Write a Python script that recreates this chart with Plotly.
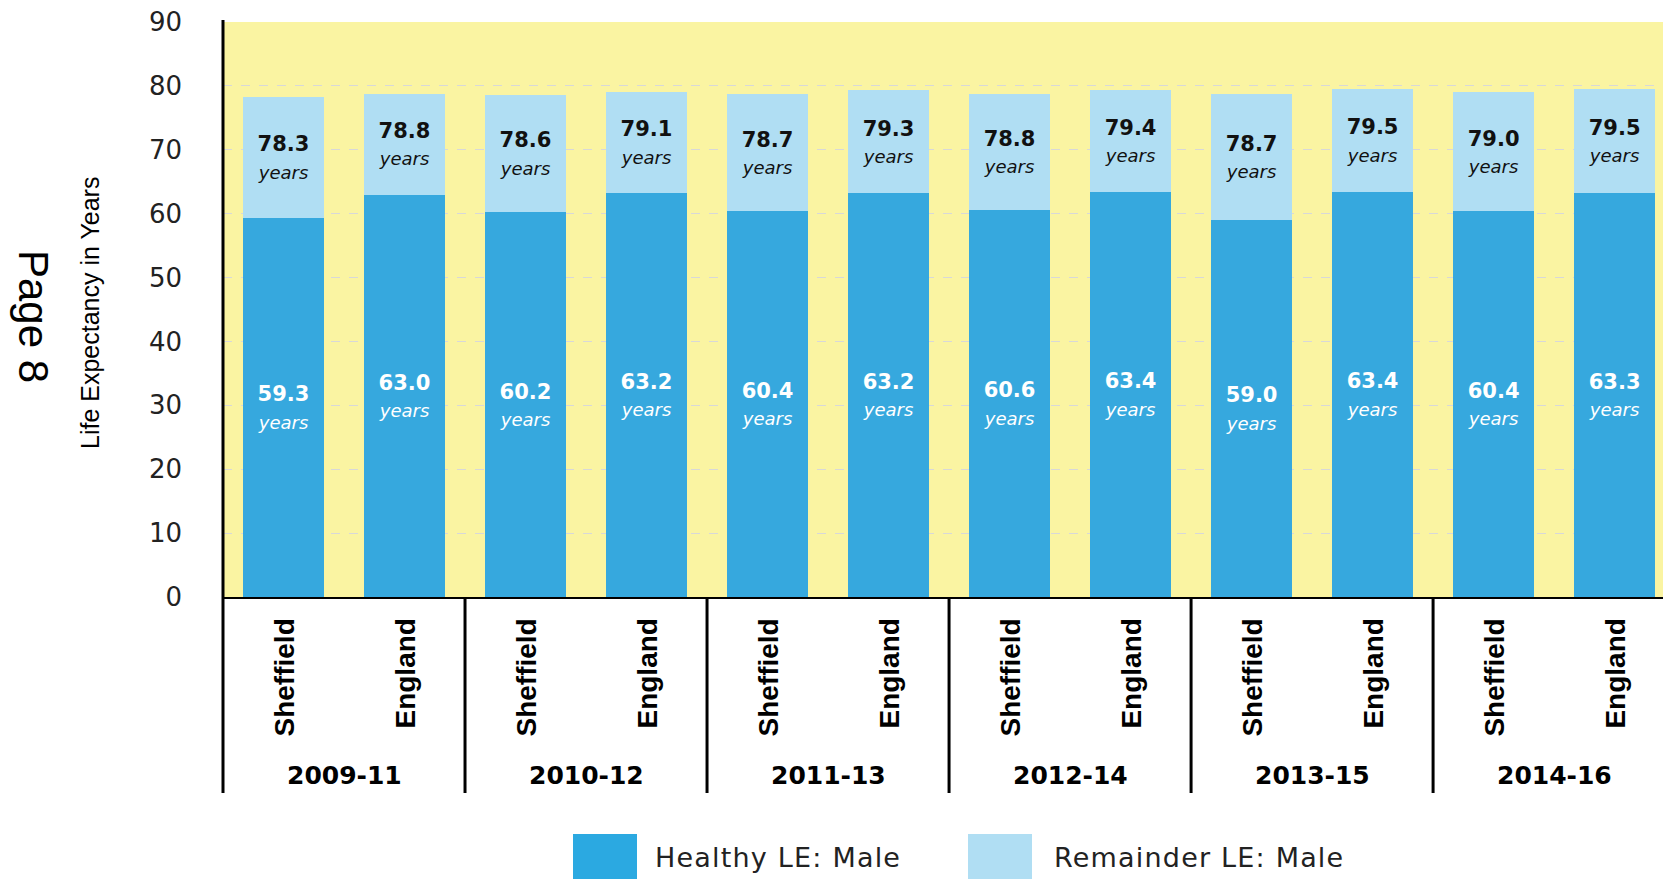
import plotly.graph_objects as go

periods = ["2009-11", "2010-12", "2011-13", "2012-14", "2013-15", "2014-16"]
areas = ["Sheffield", "England"]
healthy = [59.3, 63.0, 60.2, 63.2, 60.4, 63.2, 60.6, 63.4, 59.0, 63.4, 60.4, 63.3]
total = [78.3, 78.8, 78.6, 79.1, 78.7, 79.3, 78.8, 79.4, 78.7, 79.5, 79.0, 79.5]
y_ticks = [0, 10, 20, 30, 40, 50, 60, 70, 80, 90]

cats = [f"{p} {a}" for p in periods for a in areas]
area_labels = [a for p in periods for a in areas]
remainder = [round(t - h, 1) for t, h in zip(total, healthy)]

W, H = 1663, 879
L, R, T, B = 223, 0, 22, 282
plot_h = H - T - B
plot_w = W - L - R


def py(pix):
    return (H - B - pix) / plot_h


def px(pix):
    return (pix - L) / plot_w


DARK = "#36A8DE"
LIGHT = "#B0DEF3"
YELLOW = "#FAF4A2"
WIDE = "'DejaVu Sans', sans-serif"


def lab(v):
    return f"<b>{v:.1f}</b><br><span style='font-size:18px'><i>years</i></span>"


fig = go.Figure()
fig.add_trace(go.Bar(
    x=cats, y=healthy, name="Healthy LE: Male", marker_color=DARK,
    marker_line_width=0,
    text=[lab(v) for v in healthy], textposition="inside",
    insidetextanchor="middle", constraintext="none",
    textfont=dict(color="white", size=21, family=WIDE),
    showlegend=False,
))
fig.add_trace(go.Bar(
    x=cats, y=remainder, name="Remainder LE: Male", marker_color=LIGHT,
    marker_line_width=0,
    text=[lab(v) for v in total], textposition="inside",
    insidetextanchor="middle", constraintext="none",
    textfont=dict(color="#111111", size=21, family=WIDE),
    showlegend=False,
))

annotations = []
shapes = []
# category labels
for i, a in enumerate(area_labels):
    annotations.append(dict(
        x=i, y=py(617), xref="x", yref="paper", text=f"<b>{a}</b>",
        textangle=-90, showarrow=False, yanchor="top", xanchor="center",
        font=dict(size=28, family="'Liberation Sans', sans-serif", color="black"),
    ))
# group labels
for j, p in enumerate(periods):
    annotations.append(dict(
        x=2 * j + 0.5, y=py(776), xref="x", yref="paper", text=f"<b>{p}</b>",
        showarrow=False, yanchor="middle", xanchor="center",
        font=dict(size=25, family=WIDE, color="black"),
    ))
# dividers
for j in range(1, len(periods)):
    shapes.append(dict(type="line", xref="x", yref="paper",
                       x0=2 * j - 0.5, x1=2 * j - 0.5, y0=0, y1=py(793),
                       line=dict(color="black", width=3)))
# left axis extension
shapes.append(dict(type="line", xref="paper", yref="paper", x0=0, x1=0,
                   y0=py(20), y1=py(793), line=dict(color="black", width=3)))

# legend
leg = [("Healthy LE: Male", "#2BA9E1", 573, 653), ("Remainder LE: Male", LIGHT, 968, 1052)]
for name, col, sx, tx in leg:
    shapes.append(dict(type="rect", xref="paper", yref="paper",
                       x0=px(sx), x1=px(sx + 64), y0=py(834), y1=py(885),
                       fillcolor=col, line=dict(width=0)))
    annotations.append(dict(
        x=px(tx), y=py(857), xref="paper", yref="paper",
        text=f"<span style='letter-spacing:1.2px'>{name}</span>",
        showarrow=False, xanchor="left", yanchor="middle",
        font=dict(size=27, family=WIDE, color="#222222"),
    ))

# page marker
annotations.append(dict(
    x=px(34), y=py(316), xref="paper", yref="paper", text="Page 8",
    textangle=90, showarrow=False, xanchor="center", yanchor="middle",
    font=dict(size=42, family="'Liberation Sans', Arial, sans-serif", color="black"),
))
# axis title
annotations.append(dict(
    x=px(90), y=py(313), xref="paper", yref="paper", text="Life Expectancy in Years",
    textangle=-90, showarrow=False, xanchor="center", yanchor="middle",
    font=dict(size=25, family="'Liberation Sans Narrow', 'Liberation Sans', sans-serif", color="black"),
))

fig.update_layout(
    width=W, height=H,
    margin=dict(l=L, r=R, t=T, b=B, pad=0),
    barmode="stack", bargap=0.33,
    plot_bgcolor=YELLOW, paper_bgcolor="white",
    annotations=annotations, shapes=shapes,
    xaxis=dict(type="category", range=[-0.5, 11.4], showticklabels=False,
               showgrid=False, showline=True, linecolor="black", linewidth=2,
               ticks=""),
    yaxis=dict(range=[0, 90], tickvals=y_ticks, showgrid=True,
               gridcolor="#D8D8D8", griddash="dash", gridwidth=1,
               zeroline=False, showline=False, ticks="",
               ticklabelstandoff=40,
               tickfont=dict(size=26, family=WIDE, color="#222222")),
)

fig.write_html("out.html", config={"displayModeBar": False},
               post_script="document.body.style.margin='0';document.body.style.overflow='hidden';")
